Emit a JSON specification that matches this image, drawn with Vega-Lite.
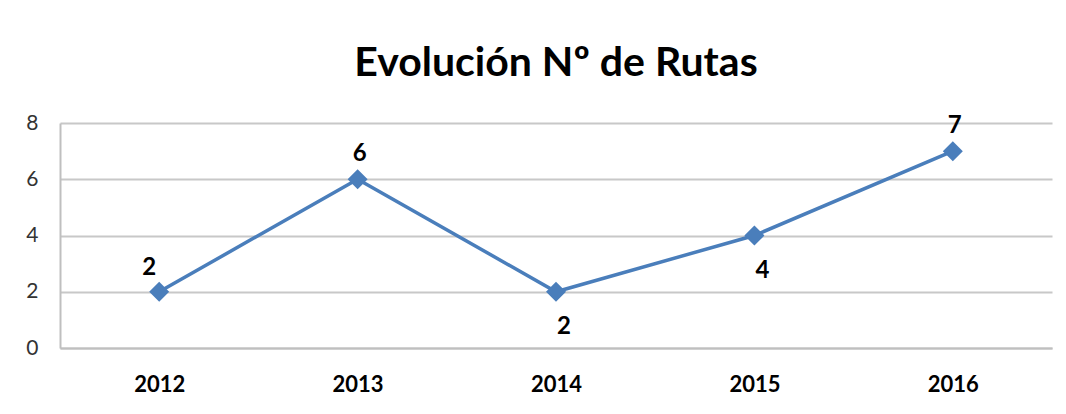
{
  "$schema": "https://vega.github.io/schema/vega-lite/v6.json",
  "width": 992,
  "height": 225,
  "autosize": "none",
  "padding": {"left": 60, "top": 123, "right": 14, "bottom": 66},
  "background": "white",
  "title": {
    "text": "Evolución Nº de Rutas",
    "font": "Lato",
    "fontSize": 41,
    "fontWeight": "bold",
    "color": "#000000",
    "anchor": "middle",
    "offset": 27
  },
  "data": {
    "values": [
      {"year": "2012", "rutas": 2},
      {"year": "2013", "rutas": 6},
      {"year": "2014", "rutas": 2},
      {"year": "2015", "rutas": 4},
      {"year": "2016", "rutas": 7}
    ]
  },
  "encoding": {
    "x": {
      "field": "year", "type": "ordinal", "title": null,
      "scale": {"type": "point", "padding": 0.5},
      "axis": {
        "labelAngle": 0, "labelFont": "Lato", "labelFontSize": 22, "labelFontWeight": "bold",
        "labelColor": "#000000", "labelPadding": 26, "ticks": false,
        "domainColor": "#bfbfbf", "domainWidth": 2, "grid": false
      }
    },
    "y": {
      "field": "rutas", "type": "quantitative", "title": null,
      "scale": {"domain": [0, 8]},
      "axis": {
        "values": [0, 2, 4, 6, 8], "labelFont": "Lato", "labelFontSize": 21,
        "labelColor": "#333333", "labelPadding": 22, "ticks": false,
        "domainColor": "#bfbfbf", "domainWidth": 2,
        "gridColor": "#c8c8c8", "gridWidth": 2
      }
    }
  },
  "layer": [
    {
      "mark": {"type": "line", "color": "#4a7ebb", "strokeWidth": 3.5}
    },
    {
      "mark": {"type": "point", "shape": "diamond", "filled": true, "color": "#4a7ebb", "size": 400, "opacity": 1}
    },
    {
      "transform": [{"filter": "datum.year == '2012'"}],
      "mark": {"type": "text", "font": "Lato", "fontSize": 24, "fontWeight": "bold", "color": "#000000", "dy": -24, "dx": -10},
      "encoding": {"text": {"field": "rutas", "type": "quantitative"}}
    },
    {
      "transform": [{"filter": "datum.year == '2013' || datum.year == '2016'"}],
      "mark": {"type": "text", "font": "Lato", "fontSize": 24, "fontWeight": "bold", "color": "#000000", "dy": -25, "dx": 2},
      "encoding": {"text": {"field": "rutas", "type": "quantitative"}}
    },
    {
      "transform": [{"filter": "datum.year == '2014' || datum.year == '2015'"}],
      "mark": {"type": "text", "font": "Lato", "fontSize": 24, "fontWeight": "bold", "color": "#000000", "dy": 35, "dx": 8},
      "encoding": {"text": {"field": "rutas", "type": "quantitative"}}
    }
  ],
  "config": {"view": {"stroke": null}}
}
